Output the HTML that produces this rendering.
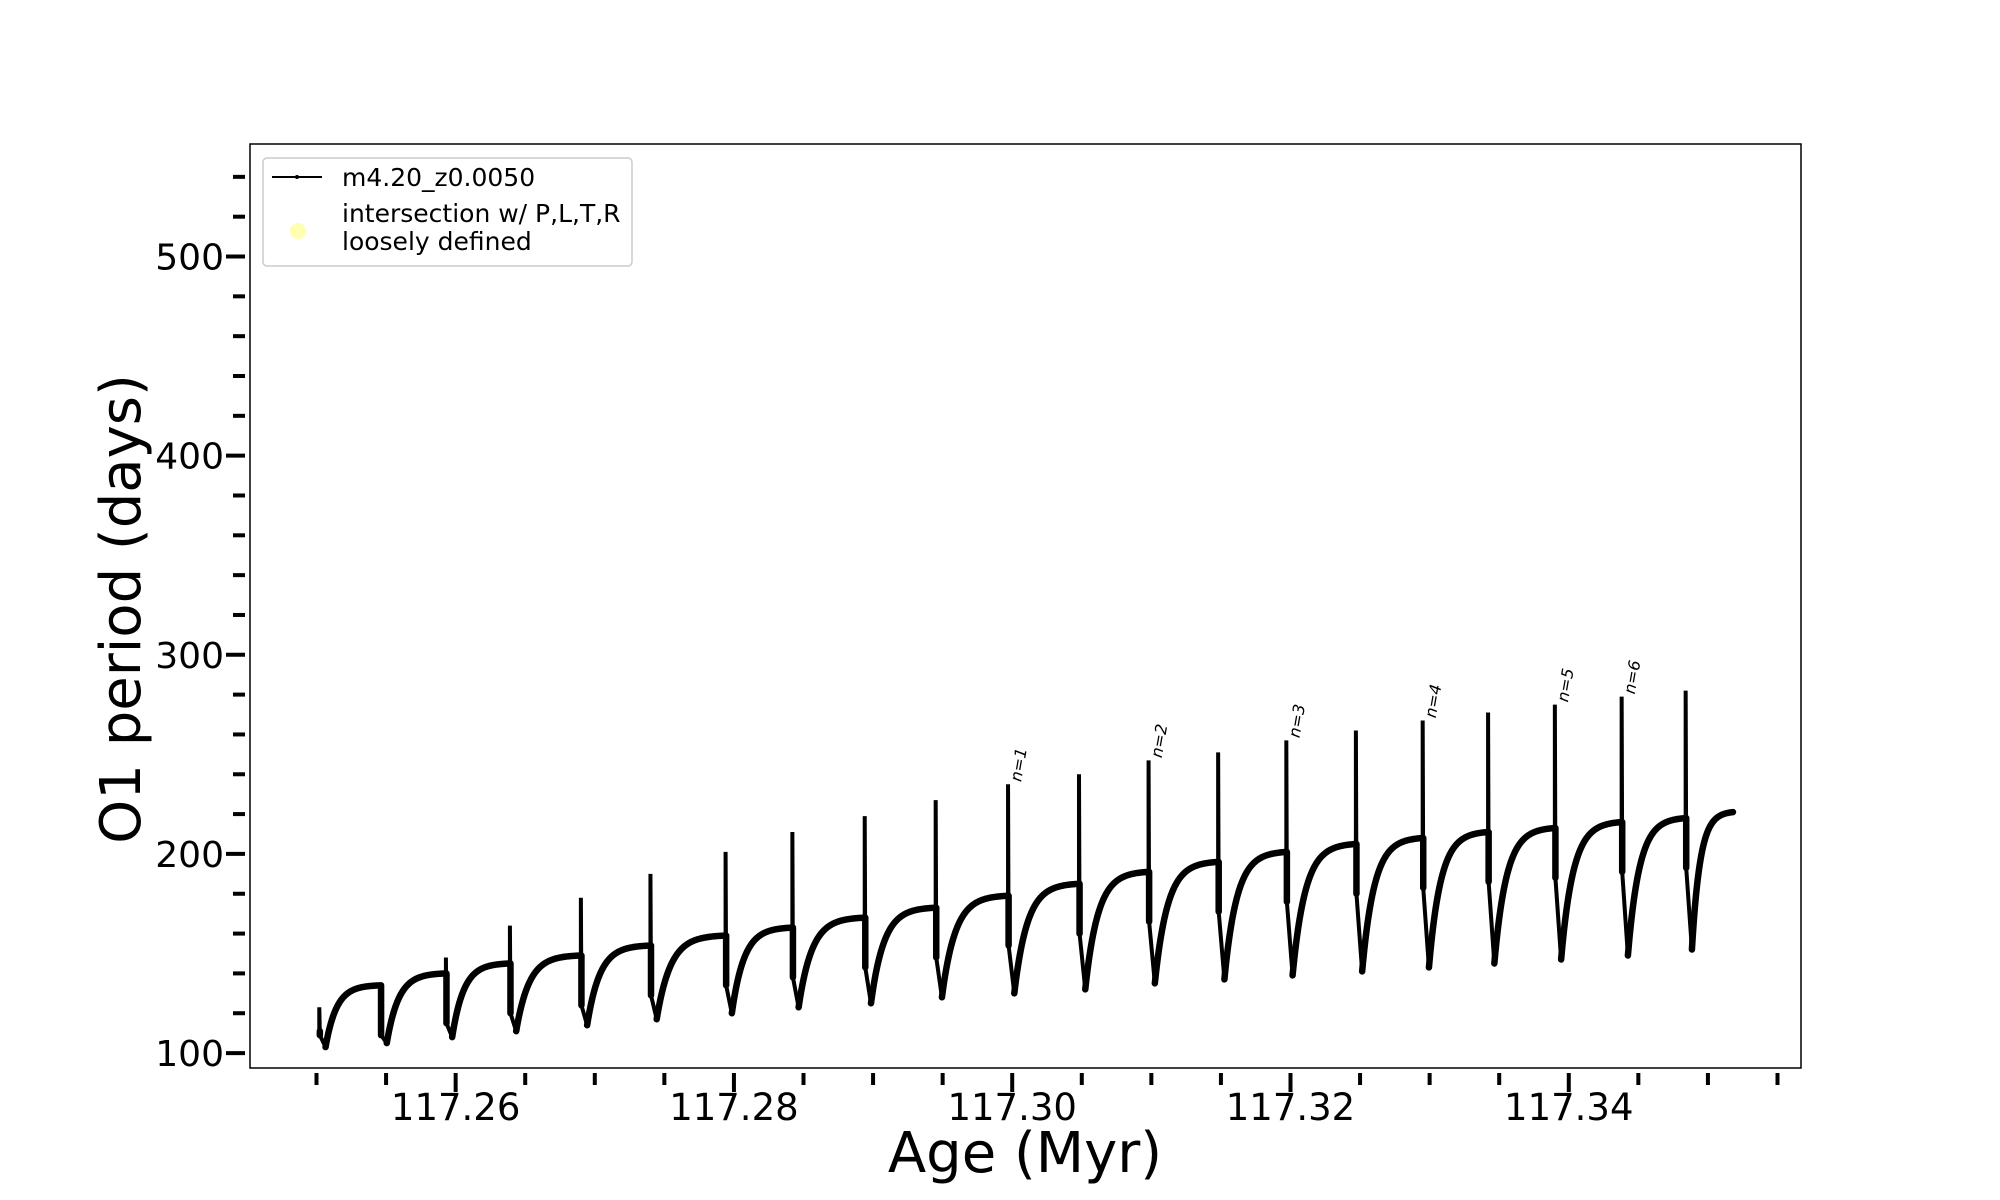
<!DOCTYPE html>
<html><head><meta charset="utf-8"><style>
html,body{margin:0;padding:0;background:#fff;}
svg{display:block;font-family:"DejaVu Sans","Liberation Sans",sans-serif;}
</style></head><body>
<svg id="chart" width="2000" height="1200" viewBox="0 0 2000 1200">
<rect width="2000" height="1200" fill="#fff"/>
<g id="marks"></g>
<g id="axes"></g>
<g id="legend">
<rect x="263" y="158" width="369" height="108" rx="4" fill="#fff" stroke="#ccc" stroke-width="1.5"/>
<line x1="272" y1="177" x2="322" y2="177" stroke="#000" stroke-width="2"/>
<circle cx="297" cy="177" r="2" fill="#000"/>
<text x="342" y="186" font-size="25">m4.20_z0.0050</text>
<circle cx="298" cy="231" r="8" fill="#ffffb0"/>
<text x="342" y="222" font-size="25">intersection w/ P,L,T,R</text>
<text x="342" y="250" font-size="25">loosely defined</text>
</g>
<text x="1025" y="1172" font-size="56" text-anchor="middle">Age (Myr)</text>
<text transform="translate(140,609) rotate(-90)" font-size="56" text-anchor="middle">O1 period (days)</text>
</svg>
<script>
const xTicks=[117.26,117.28,117.30,117.32,117.34];
const xTickLabels=["117.26","117.28","117.30","117.32","117.34"];
const yTicks=[100,200,300,400,500];
const yTickLabels=["100","200","300","400","500"];
const startAge=117.2502, startVal=123, startMin=103;
const pulseAges=[117.2546,117.2593,117.2639,117.2690,117.2740,117.2794,117.2842,117.2894,117.2945,117.2997,117.3048,117.3098,117.3148,117.3197,117.3247,117.3295,117.3342,117.3390,117.3438,117.3484];
const peakVals=[133,148,164,178,190,201,211,219,227,235,240,247,251,257,262,267,271,275,279,282];
const plateauVals=[134,140,145,149,154,159,163,168,173,179,185,191,196,201,205,208,211,213,216,218];
const minVals=[105,108,111,114,117,120,123,125,128,130,132,135,137,139,141,143,145,147,149,152];
const endAge=117.3518, endVal=221;
const nLabels=[{i:9,t:"n=1"},{i:11,t:"n=2"},{i:13,t:"n=3"},{i:15,t:"n=4"},{i:17,t:"n=5"},{i:18,t:"n=6"}];

const L=250,R=1801,T=144,B=1068;
const x0=117.24522,x1=117.35669,y0=92.5,y1=556.5;
const X=v=>L+(v-x0)/(x1-x0)*(R-L);
const Y=v=>B-(v-y0)/(y1-y0)*(B-T);
const NS="http://www.w3.org/2000/svg";
function mk(tag,attrs,parent){const e=document.createElementNS(NS,tag);for(const k in attrs)e.setAttribute(k,attrs[k]);parent.appendChild(e);return e;}
const marks=document.getElementById('marks'), axes=document.getElementById('axes');

const mins=[startMin].concat(minVals);
const starts=[startAge].concat(pulseAges);
const ends=pulseAges.concat([endAge]);
const plats=plateauVals.concat([endVal]);
let thick="", thin="";
for(let s=0;s<starts.length;s++){
  const t0=starts[s], t1=ends[s];
  const tm=t0+0.00045;
  const mn=mins[s], pl=plats[s];
  const top = s===0?startVal:peakVals[s-1];
  const base = s===0?startVal-12:plateauVals[s-1];
  const dropV = s===0?mn+6:(plateauVals[s-1]-25);
  thin+=`M${X(t0)},${Y(base)}L${X(t0)},${Y(top)}L${X(t0+0.00004)},${Y(dropV)}L${X(tm)},${Y(mn)}`;
  thick+=`M${X(t0+0.00004)},${Y(base)}L${X(t0+0.00004)},${Y(dropV)}`;
  let d=`M${X(tm)},${Y(mn)}`;
  const span=t1-tm, N=80;
  for(let k=1;k<=N;k++){const u=k/N;const f=(1-Math.exp(-5*u))/(1-Math.exp(-5));d+=`L${X(tm+span*u)},${Y(mn+(pl-mn)*f)}`;}
  thick+=d;
}
const p1=mk('path',{d:thin,fill:'none',stroke:'#000','stroke-width':4},marks);


const p2=mk('path',{d:thick,fill:'none',stroke:'#000','stroke-width':6.5,'stroke-linejoin':'round','stroke-linecap':'round'},marks);



nLabels.forEach(o=>{
  const tx=X(pulseAges[o.i])+13, ty=Y(peakVals[o.i])-2;
  const t=mk('text',{transform:`translate(${tx},${ty}) rotate(-80)`,'font-size':16,'font-style':'italic'},marks);
  t.textContent=o.t;
  
  
});

const fr=mk('rect',{x:L,y:T,width:R-L,height:B-T,fill:'none',stroke:'#000','stroke-width':1.5},axes);


for(let v=117.25;v<=117.3551;v+=0.005){
  const major=xTicks.some(m=>Math.abs(m-v)<1e-6);
  mk('line',{x1:X(v),x2:X(v),y1:B+5,y2:B+(major?24:17),stroke:'#000','stroke-width':4},axes);
}
xTicks.forEach((v,i)=>{const t=mk('text',{x:X(v),y:B+52,'font-size':37,'text-anchor':'middle'},axes);t.textContent=xTickLabels[i];

});
for(let v=100;v<=540;v+=20){
  const major=yTicks.includes(v);
  mk('line',{x1:L-(major?24:17),x2:L-5,y1:Y(v),y2:Y(v),stroke:'#000','stroke-width':4},axes);
}
yTicks.forEach((v,i)=>{const t=mk('text',{x:L-26,y:Y(v)+13,'font-size':36,'text-anchor':'end'},axes);t.textContent=yTickLabels[i];

});
</script>
</body></html>
